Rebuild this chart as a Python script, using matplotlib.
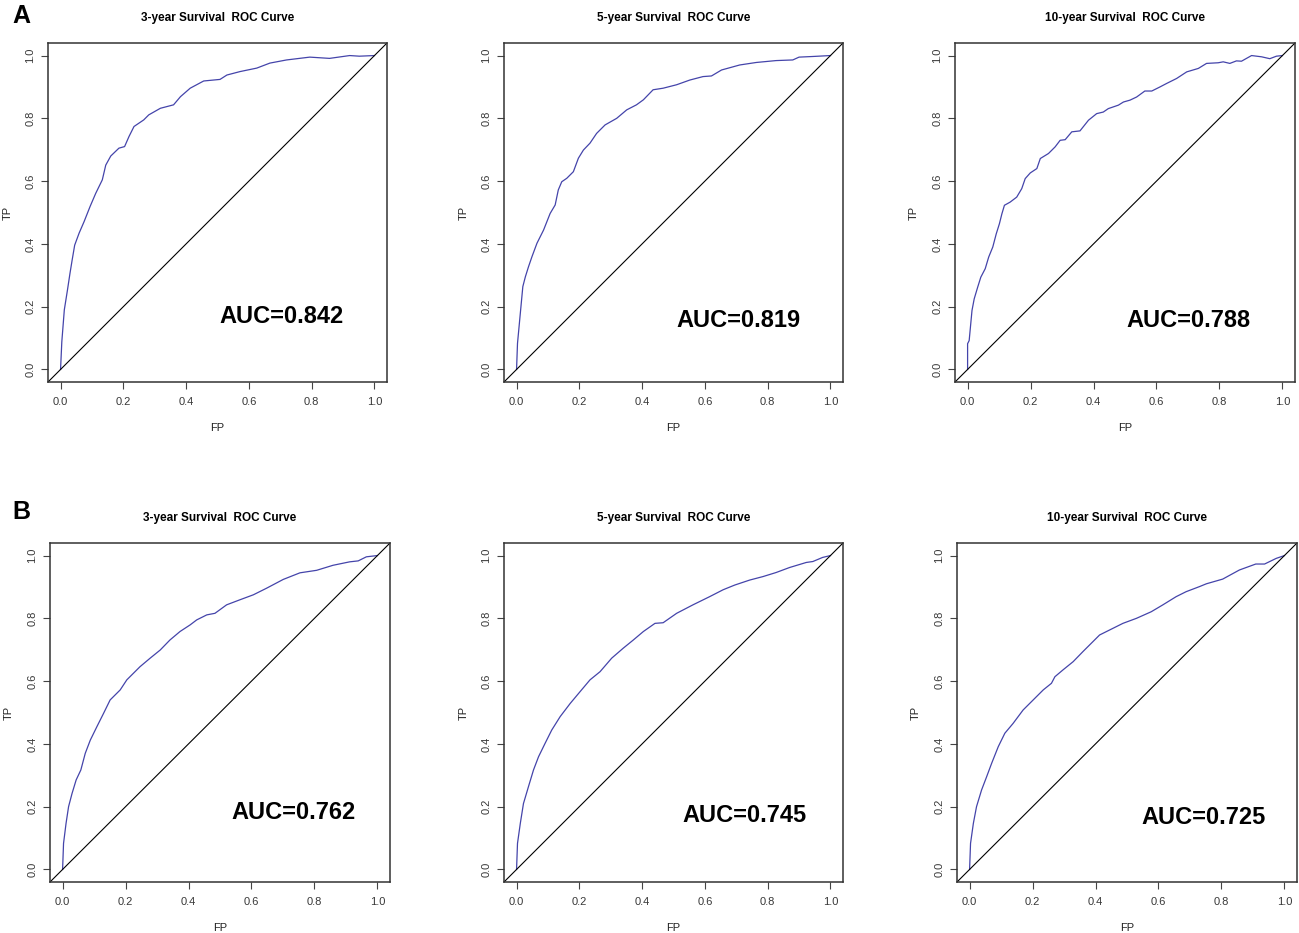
import matplotlib
matplotlib.use("Agg")
import matplotlib.pyplot as plt
import numpy as np

plt.rcParams['font.family'] = ['Liberation Sans', 'DejaVu Sans']

# ---------------- data ----------------
titles = ["3-year Survival  ROC Curve", "5-year Survival  ROC Curve", "10-year Survival  ROC Curve",
          "3-year Survival  ROC Curve", "5-year Survival  ROC Curve", "10-year Survival  ROC Curve"]
auc_labels = ["AUC=0.842", "AUC=0.819", "AUC=0.788", "AUC=0.762", "AUC=0.745", "AUC=0.725"]
panel_letters = ["A", "B"]

a1_fp = [0, 0.004, 0.012, 0.022, 0.03, 0.037, 0.045, 0.059, 0.075, 0.094, 0.112, 0.133, 0.144, 0.16, 0.186,
         0.204, 0.218, 0.234, 0.265, 0.281, 0.318, 0.36, 0.382, 0.413, 0.456, 0.508, 0.53, 0.572, 0.625, 0.667,
         0.72, 0.794, 0.857, 0.921, 0.952, 1.0]
a1_tp = [0, 0.088, 0.19, 0.253, 0.306, 0.349, 0.396, 0.434, 0.471, 0.519, 0.561, 0.604, 0.651, 0.68, 0.705,
         0.71, 0.742, 0.774, 0.795, 0.811, 0.832, 0.843, 0.869, 0.896, 0.919, 0.924, 0.938, 0.949, 0.96, 0.976,
         0.986, 0.995, 0.991, 1.0, 0.998, 1.0]

a2_fp = [0, 0.003, 0.012, 0.02, 0.028, 0.038, 0.049, 0.065, 0.086, 0.107, 0.123, 0.133, 0.144, 0.16, 0.181,
         0.197, 0.213, 0.234, 0.255, 0.282, 0.319, 0.351, 0.382, 0.404, 0.435, 0.467, 0.51, 0.552, 0.594, 0.621,
         0.653, 0.711, 0.764, 0.827, 0.88, 0.9, 0.943, 1.0]
a2_tp = [0, 0.083, 0.179, 0.264, 0.295, 0.327, 0.359, 0.402, 0.444, 0.497, 0.524, 0.572, 0.598, 0.609, 0.63,
         0.673, 0.699, 0.721, 0.752, 0.779, 0.8, 0.827, 0.843, 0.859, 0.891, 0.896, 0.907, 0.922, 0.933, 0.935,
         0.954, 0.97, 0.978, 0.984, 0.986, 0.995, 0.997, 1.0]

a3_fp = [0, 0, 0.005, 0.008, 0.014, 0.021, 0.032, 0.042, 0.056, 0.067, 0.08, 0.091, 0.101, 0.109, 0.117, 0.135,
         0.156, 0.172, 0.183, 0.199, 0.22, 0.231, 0.257, 0.278, 0.294, 0.31, 0.331, 0.357, 0.384, 0.41, 0.431,
         0.447, 0.479, 0.495, 0.516, 0.537, 0.563, 0.585, 0.611, 0.632, 0.664, 0.696, 0.733, 0.759, 0.796, 0.812,
         0.833, 0.854, 0.87, 0.902, 0.934, 0.96, 0.981, 1.0]
a3_tp = [0, 0.082, 0.092, 0.124, 0.188, 0.225, 0.262, 0.294, 0.321, 0.358, 0.39, 0.432, 0.464, 0.496, 0.523,
         0.533, 0.549, 0.576, 0.608, 0.626, 0.64, 0.672, 0.688, 0.709, 0.73, 0.732, 0.757, 0.76, 0.794, 0.815,
         0.82, 0.831, 0.842, 0.852, 0.858, 0.868, 0.887, 0.887, 0.9, 0.911, 0.927, 0.948, 0.959, 0.975, 0.977,
         0.98, 0.975, 0.983, 0.982, 1.0, 0.996, 0.99, 0.998, 1.0]

b1_fp = [0, 0.003, 0.011, 0.019, 0.03, 0.043, 0.058, 0.072, 0.088, 0.109, 0.13, 0.151, 0.183, 0.204, 0.225,
         0.246, 0.278, 0.31, 0.341, 0.373, 0.405, 0.426, 0.458, 0.484, 0.521, 0.563, 0.606, 0.648, 0.701, 0.754,
         0.807, 0.859, 0.912, 0.939, 0.965, 1.0]
b1_tp = [0, 0.083, 0.147, 0.2, 0.242, 0.285, 0.317, 0.37, 0.412, 0.455, 0.497, 0.54, 0.572, 0.604, 0.625,
         0.646, 0.673, 0.699, 0.731, 0.758, 0.779, 0.795, 0.811, 0.816, 0.843, 0.859, 0.875, 0.896, 0.924, 0.945,
         0.953, 0.969, 0.98, 0.983, 0.996, 1.0]

b2_fp = [0, 0.003, 0.012, 0.022, 0.038, 0.054, 0.07, 0.091, 0.112, 0.139, 0.171, 0.202, 0.234, 0.266, 0.303,
         0.34, 0.372, 0.404, 0.441, 0.467, 0.51, 0.562, 0.615, 0.658, 0.695, 0.743, 0.785, 0.827, 0.87, 0.923,
         0.944, 0.975, 1.0]
b2_tp = [0, 0.083, 0.147, 0.21, 0.264, 0.317, 0.359, 0.402, 0.444, 0.487, 0.529, 0.566, 0.604, 0.63, 0.673,
         0.705, 0.731, 0.758, 0.784, 0.786, 0.816, 0.843, 0.869, 0.891, 0.906, 0.922, 0.933, 0.946, 0.962, 0.978,
         0.981, 0.994, 1.0]

b3_fp = [0, 0.003, 0.012, 0.022, 0.038, 0.054, 0.07, 0.091, 0.112, 0.138, 0.17, 0.202, 0.234, 0.26, 0.271,
         0.297, 0.329, 0.36, 0.392, 0.413, 0.445, 0.487, 0.53, 0.577, 0.614, 0.656, 0.688, 0.73, 0.752, 0.804,
         0.857, 0.909, 0.937, 0.974, 1.0]
b3_tp = [0, 0.083, 0.147, 0.2, 0.253, 0.295, 0.338, 0.391, 0.434, 0.465, 0.508, 0.54, 0.572, 0.593, 0.614,
         0.636, 0.662, 0.694, 0.726, 0.747, 0.763, 0.784, 0.8, 0.821, 0.843, 0.869, 0.885, 0.901, 0.91, 0.925,
         0.954, 0.973, 0.973, 0.991, 1.0]

curves = [(a1_fp, a1_tp), (a2_fp, a2_tp), (a3_fp, a3_tp), (b1_fp, b1_tp), (b2_fp, b2_tp), (b3_fp, b3_tp)]
auc_pos = [(0.704, 0.17), (0.708, 0.157), (0.702, 0.157), (0.733, 0.18), (0.725, 0.173), (0.744, 0.166)]
ticks = [0.0, 0.2, 0.4, 0.6, 0.8, 1.0]
tick_labels = ["0.0", "0.2", "0.4", "0.6", "0.8", "1.0"]

# ---------------- layout (pixels) ----------------
W, H = 1299, 933
boxes = [(48, 43, 387, 382), (504, 43, 843, 382), (955, 43, 1295, 382),
         (50, 543, 390, 882), (504, 543, 843, 882), (957, 543, 1297, 882)]

fig = plt.figure(figsize=(W / 100, H / 100), dpi=100)
fig.patch.set_facecolor("white")

for i, (l, t, r, b) in enumerate(boxes):
    ax = fig.add_axes([l / W, 1 - b / H, (r - l) / W, (b - t) / H])
    fp, tp = curves[i]
    ax.plot(fp, tp, color="#4444aa", lw=0.9)
    ax.plot([-0.04, 1.04], [-0.04, 1.04], color="black", lw=0.8)
    ax.set_xlim(-0.04, 1.04)
    ax.set_ylim(-0.04, 1.04)
    ax.set_xticks(ticks)
    ax.set_xticklabels(tick_labels)
    ax.set_yticks(ticks)
    ax.set_yticklabels(tick_labels, rotation=90, va="center")
    ax.tick_params(direction="out", length=5, width=0.8, color="#444444",
                   labelsize=8, labelcolor="#383838", pad=6)
    ax.tick_params(axis="y", pad=4)
    for s in ax.spines.values():
        s.set_color("#333333")
        s.set_linewidth(1.1)
    ax.set_xlabel("FP", fontsize=8, color="#222222", va="center")
    ax.set_ylabel("TP", fontsize=8, color="#222222", va="center", ha="center")
    ax.xaxis.set_label_coords(0.5, -0.137)
    ax.yaxis.set_label_coords(-0.12, 0.5)
    ax.set_title(titles[i], fontsize=8.5, fontweight="bold", pad=16)
    ax.text(auc_pos[i][0], auc_pos[i][1], auc_labels[i], fontsize=17, fontweight="bold",
            ha="center", va="center")

fig.text(12 / W, 1 - 16 / H, panel_letters[0], fontsize=18, fontweight="bold", ha="left", va="center")
fig.text(12 / W, 1 - 512 / H, panel_letters[1], fontsize=18, fontweight="bold", ha="left", va="center")

fig.savefig("out.png", dpi=100, facecolor="white")
